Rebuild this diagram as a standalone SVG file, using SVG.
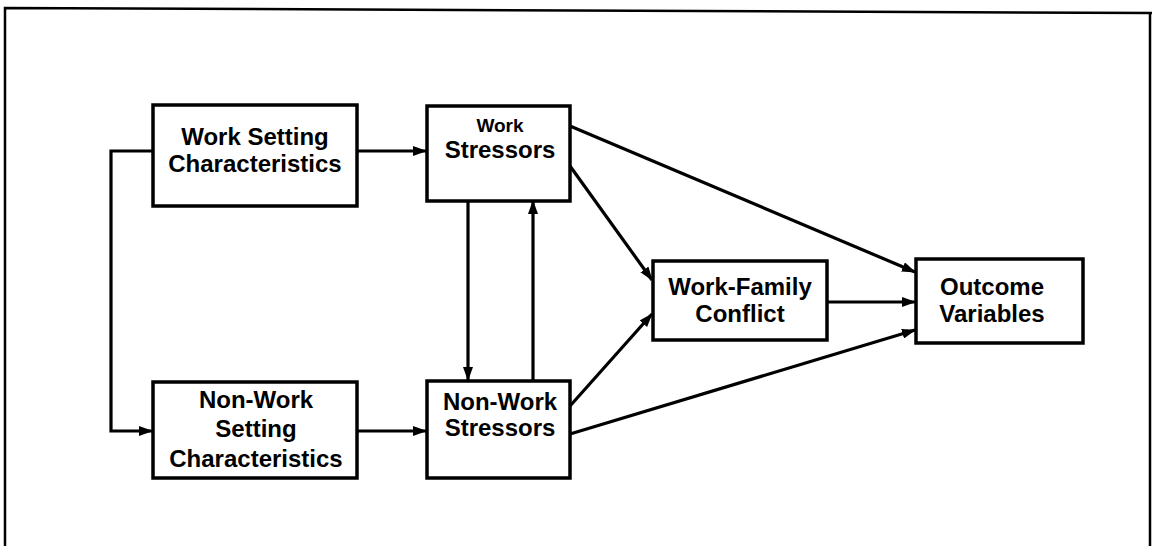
<svg xmlns="http://www.w3.org/2000/svg" width="1152" height="546" viewBox="0 0 1152 546">
<style>
.box{fill:#fff;stroke:#000;stroke-width:3.5}
.lbl{font-family:"Liberation Sans",Arial,sans-serif;font-weight:bold;font-size:24px;fill:#000;text-anchor:middle}
.sm{font-size:19px}
.con{stroke:#000;stroke-width:3.2;fill:none}
.frame{stroke:#000;stroke-width:2.5;fill:none}
</style>
<defs>
<marker id="ah" markerUnits="userSpaceOnUse" markerWidth="14" markerHeight="10" refX="13" refY="5" orient="auto">
<path d="M0,0 L14,5 L0,10 Z" fill="#000"/>
</marker>
</defs>
<rect width="1152" height="546" fill="#fff"/>
<g id="frame">
<path class="frame" d="M5,546 L5,8 L1152,13"/>
<path class="frame" d="M1150,13 L1150,546"/>
</g>
<g id="connectors">
<path class="con" d="M153,151 L111,151 L111,431 L152,431" marker-end="url(#ah)"/>
<path class="con" d="M357,151 L426,151" marker-end="url(#ah)"/>
<path class="con" d="M357,431 L426,431" marker-end="url(#ah)"/>
<path class="con" d="M468,201 L468,380" marker-end="url(#ah)"/>
<path class="con" d="M533,380 L533,201" marker-end="url(#ah)"/>
<path class="con" d="M570,126 L915,272" marker-end="url(#ah)"/>
<path class="con" d="M570,166 L652,280" marker-end="url(#ah)"/>
<path class="con" d="M570,406 L652,314" marker-end="url(#ah)"/>
<path class="con" d="M570,434 L915,330" marker-end="url(#ah)"/>
<path class="con" d="M827,302 L915,302" marker-end="url(#ah)"/>
</g>
<g id="work-setting">
<rect class="box" x="153" y="105" width="204" height="101"/>
<text class="lbl" x="255" y="145">Work Setting</text>
<text class="lbl" x="255" y="172">Characteristics</text>
</g>
<g id="non-work-setting">
<rect class="box" x="153" y="382" width="204" height="96"/>
<text class="lbl" x="256" y="408">Non-Work</text>
<text class="lbl" x="256" y="437">Setting</text>
<text class="lbl" x="256" y="467">Characteristics</text>
</g>
<g id="work-stressors">
<rect class="box" x="427" y="106" width="143" height="95"/>
<text class="lbl sm" x="500" y="132">Work</text>
<text class="lbl" x="500" y="158">Stressors</text>
</g>
<g id="non-work-stressors">
<rect class="box" x="427" y="381" width="143" height="97"/>
<text class="lbl" x="500" y="410">Non-Work</text>
<text class="lbl" x="500" y="436">Stressors</text>
</g>
<g id="work-family-conflict">
<rect class="box" x="653" y="261" width="174" height="79"/>
<text class="lbl" x="740" y="295">Work-Family</text>
<text class="lbl" x="740" y="322">Conflict</text>
</g>
<g id="outcome-variables">
<rect class="box" x="916" y="259" width="167" height="84"/>
<text class="lbl" x="992" y="295">Outcome</text>
<text class="lbl" x="992" y="322">Variables</text>
</g>
</svg>
